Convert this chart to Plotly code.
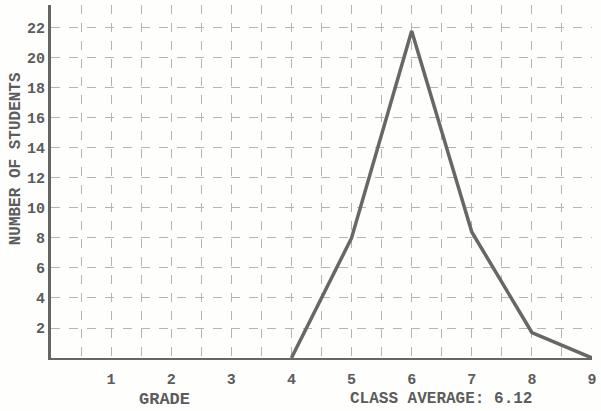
import plotly.graph_objects as go

# Grade distribution for the class
grades = [4, 5, 6, 7, 8, 9]
students = [0, 8, 21.8, 8.4, 1.7, 0]
x_ticks = [1, 2, 3, 4, 5, 6, 7, 8, 9]
y_ticks = [2, 4, 6, 8, 10, 12, 14, 16, 18, 20, 22]
class_average = "6.12"

ink = "#5c5c5c"
grid = "#b4b4b4"
mono = "Liberation Mono, Courier New, monospace"

fig = go.Figure()
fig.add_trace(go.Scatter(
    x=grades, y=students, mode="lines",
    line=dict(color="#676767", width=3.5),
    showlegend=False, hoverinfo="skip",
))

fig.update_layout(
    width=601, height=411,
    margin=dict(l=51, r=4, t=5, b=53),
    paper_bgcolor="#fefefc", plot_bgcolor="#fefefc",
    font=dict(family=mono, color=ink, size=15),
    xaxis=dict(
        range=[0, 9], tickvals=x_ticks, ticks="",
        ticktext=["<b>%d</b>" % v for v in x_ticks],
        ticklabelstandoff=6, ticklabeloverflow="allow",
        showgrid=True, gridcolor=grid, griddash="dash", gridwidth=1,
        minor=dict(dtick=0.5, tick0=0, showgrid=True, gridcolor=grid,
                   griddash="dash", gridwidth=1),
        showline=True, linecolor="#666", linewidth=2,
        zeroline=False, tickfont=dict(size=15, color=ink),
    ),
    yaxis=dict(
        range=[0, 23.53], tickvals=y_ticks, ticks="",
        ticktext=["<b>%d</b>" % v for v in y_ticks],
        showgrid=True, gridcolor=grid, griddash="dash", gridwidth=1,
        showline=True, linecolor="#666", linewidth=3,
        zeroline=False, tickfont=dict(size=15, color=ink),
    ),
)

# Axis captions
fig.add_annotation(x=-0.064, y=0.564, xref="paper", yref="paper",
                   xanchor="center", yanchor="middle",
                   text="<b>NUMBER OF STUDENTS</b>", textangle=-90,
                   showarrow=False, font=dict(size=16, color=ink))
fig.add_annotation(x=1.88, y=0, xref="x", yref="paper", yshift=-41,
                   yanchor="middle", text="<b>GRADE</b>", showarrow=False,
                   font=dict(size=17, color=ink))
fig.add_annotation(x=6.48, y=0, xref="x", yref="paper", yshift=-41,
                   yanchor="middle",
                   text="<b>CLASS AVERAGE: " + class_average + "</b>",
                   showarrow=False, font=dict(size=16, color=ink))

fig.write_html("out.html")
